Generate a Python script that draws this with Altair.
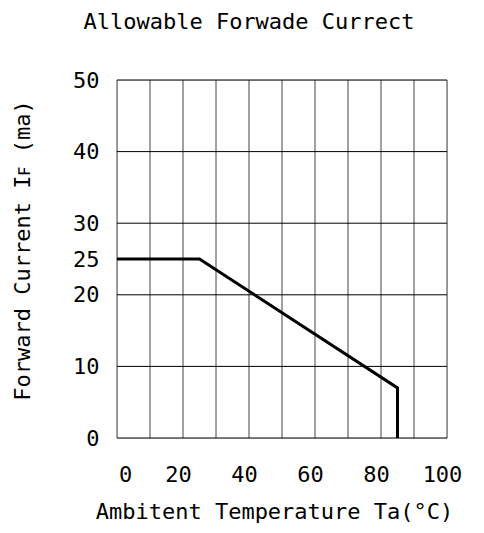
import altair as alt
import pandas as pd

# Derating curve
temp = [0, 25, 85, 85]
current = [25, 25, 7, 0]

# Grid lines and ticks
x_grid = [0, 10, 20, 30, 40, 50, 60, 70, 80, 90, 100]
y_grid = [0, 10, 20, 30, 40, 50]
x_ticks = [0, 20, 40, 60, 80, 100]
y_ticks = [0, 10, 20, 25, 30, 40, 50]

title_text = "Allowable Forwade Currect"
x_title = "Ambitent Temperature Ta(°C)"
y_title = "Forward Current Iꜰ (ma)"

FONT = "DejaVu Sans Mono"

curve = pd.DataFrame({"temp": temp, "current": current, "order": list(range(len(temp)))})
xs = alt.Scale(domain=[0, 100], nice=False, zero=False)
ys = alt.Scale(domain=[0, 50], nice=False, zero=False)

x_axis = alt.Axis(
    values=x_ticks, title=x_title, grid=False, ticks=False, domain=False,
    labelFont=FONT, labelFontSize=22, labelColor="black",
    labelBaseline="alphabetic", labelPadding=43, labelFlush=False,
    labelOffset={"condition": {"test": "datum.value == 0", "value": 8}, "value": -5},
    titleFont=FONT, titleFontSize=22, titleFontWeight="normal", titleColor="black",
    titleX=157, titleY=80, titleBaseline="alphabetic", titleAlign="center",
)
y_axis = alt.Axis(
    values=y_ticks, title=y_title, grid=False, ticks=False, domain=False,
    labelFont=FONT, labelFontSize=22, labelColor="black", labelPadding=18,
    titleFont=FONT, titleFontSize=22, titleFontWeight="normal", titleColor="black",
    titleX=-88, titleY=170, titleBaseline="alphabetic", titleAlign="center", titleAngle=270,
)

vgrid = alt.Chart(pd.DataFrame({"temp": x_grid})).mark_rule(color="#444444", strokeWidth=1).encode(
    x=alt.X("temp:Q", scale=xs, axis=x_axis)
)

hgrid = alt.Chart(pd.DataFrame({"current": y_grid})).mark_rule(color="black", strokeWidth=1).encode(
    y=alt.Y("current:Q", scale=ys, axis=y_axis)
)

line = alt.Chart(curve).mark_line(color="black", strokeWidth=3).encode(
    x=alt.X("temp:Q", scale=xs, axis=x_axis),
    y=alt.Y("current:Q", scale=ys, axis=y_axis),
    order="order:O",
)

chart = alt.layer(vgrid, hgrid, line).properties(
    width=330,
    height=358,
    autosize=alt.AutoSizeParams(type="none"),
    padding={"left": 109, "top": 72, "right": 29, "bottom": 87},
    title=alt.TitleParams(
        text=title_text, font=FONT, fontSize=22, fontWeight="normal", color="black",
        anchor="middle", frame="group", dx=-33, offset=18, baseline="alphabetic",
    ),
).configure_view(stroke="black", strokeWidth=1).configure(background="white")

chart.save("out.html", embed_options={"renderer": "svg", "actions": False})
